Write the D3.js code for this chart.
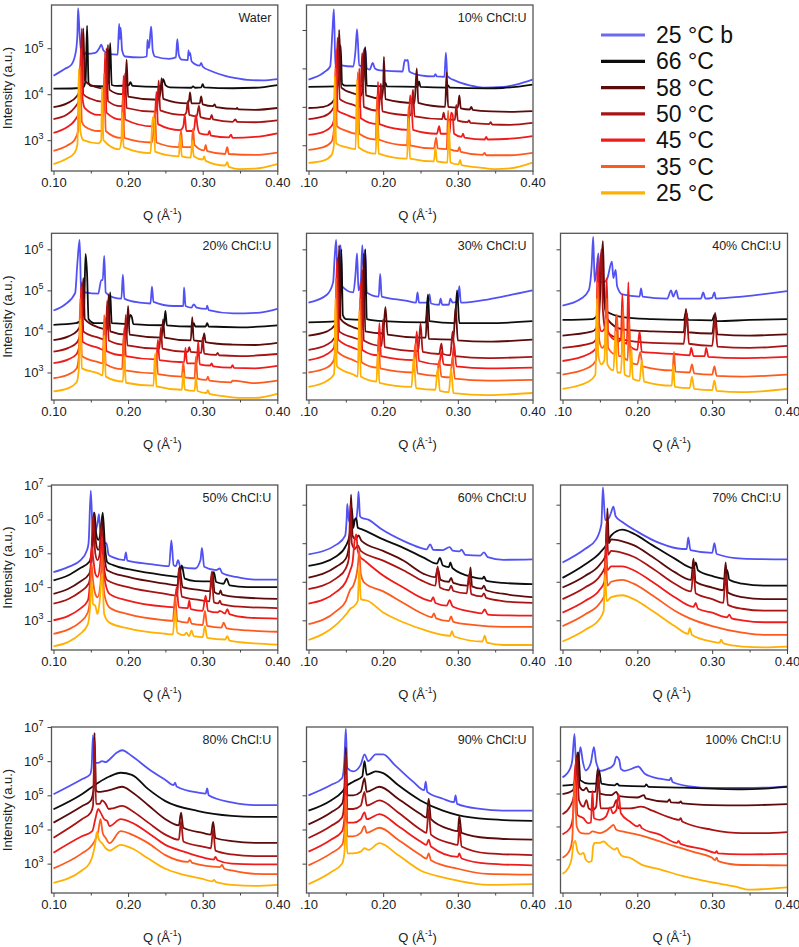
<!DOCTYPE html>
<html><head><meta charset="utf-8">
<script src="https://cdn.jsdelivr.net/npm/d3@7"></script>
<style>body{margin:0;background:#fff}svg{font-family:"Liberation Sans",Arial,sans-serif}</style>
</head><body>
<svg id="chart" width="799" height="947"></svg>
<script>
// ---------------- DATA ----------------
const seriesNames = ["25 °C b","66 °C","58 °C","50 °C","45 °C","35 °C","25 °C"];
const seriesColors = ["#5252f4","#0d0d0d","#5c0b0b","#a81414","#f01c1c","#ff5a1e","#ffb000"];
const legendColors = ["#6a6af2","#0d0d0d","#5c0b0b","#a81414","#f01c1c","#ff5a1e","#ffb000"];
const xTickValues = [0.10,0.20,0.30,0.40];
const xMinorTicks = [0.15,0.25,0.35];
const panelTitles = ["Water","10% ChCl:U","20% ChCl:U","30% ChCl:U","40% ChCl:U","50% ChCl:U","60% ChCl:U","70% ChCl:U","80% ChCl:U","90% ChCl:U","100% ChCl:U"];
// Each curve: [Q (Å^-1), log10(Intensity / a.u.)] pairs
const curvesWater = [
 [[.100,4.40],[.115,4.55],[.124,4.64],[.130,4.93],[.132,5.3],[.133,5.87],[.135,5.3],[.137,4.96],[.145,4.88],[.156,4.90],[.162,5.02],[.164,5.08],[.167,4.95],[.175,4.87],[.186,4.86],[.188,5.53],[.189,5.2],[.190,5.45],[.192,4.95],[.196,4.82],[.216,4.80],[.225,4.82],[.226,5.18],[.228,5.0],[.230,5.35],[.231,5.47],[.233,4.95],[.236,4.82],[.255,4.77],[.264,4.8],[.266,5.2],[.268,4.85],[.272,4.75],[.280,4.74],[.281,4.95],[.282,4.85],[.283,4.9],[.285,4.72],[.290,4.65],[.296,4.62],[.298,4.68],[.300,4.6],[.312,4.50],[.330,4.40],[.345,4.35],[.360,4.31],[.380,4.30],[.400,4.33]],
 [[.100,4.12],[.130,4.13],[.140,4.15],[.143,4.3],[.145,5.49],[.147,4.25],[.150,4.18],[.170,4.17],[.174,4.3],[.176,5.11],[.178,4.2],[.185,4.18],[.201,4.2],[.203,4.26],[.206,4.18],[.240,4.16],[.245,4.2],[.247,4.33],[.250,4.2],[.256,4.15],[.285,4.14],[.287,4.17],[.290,4.14],[.298,4.15],[.300,4.22],[.302,4.15],[.340,4.13],[.370,4.14],[.400,4.20]],
 [[.100,3.72],[.118,3.80],[.131,3.95],[.137,4.15],[.140,5.43],[.142,4.3],[.150,4.2],[.170,4.12],[.172,4.3],[.173,5.07],[.175,4.1],[.190,4.0],[.196,4.0],[.198,4.75],[.200,3.95],[.240,3.88],[.243,4.0],[.245,4.35],[.247,3.9],[.280,3.80],[.282,3.9],[.283,4.04],[.285,3.8],[.296,3.8],[.298,3.95],[.300,3.78],[.314,3.74],[.316,3.78],[.318,3.72],[.345,3.68],[.346,3.70],[.348,3.67],[.370,3.66],[.400,3.70]],
 [[.100,3.46],[.118,3.56],[.128,3.70],[.135,3.9],[.138,5.43],[.140,4.0],[.150,3.9],[.165,3.84],[.170,3.9],[.171,5.0],[.173,3.85],[.190,3.74],[.194,3.78],[.196,4.45],[.198,3.7],[.235,3.62],[.239,3.7],[.241,4.3],[.243,3.65],[.275,3.55],[.278,3.6],[.280,3.85],[.282,3.55],[.292,3.52],[.295,3.75],[.297,3.5],[.310,3.46],[.312,3.55],[.314,3.45],[.340,3.40],[.344,3.45],[.346,3.40],[.370,3.39],[.400,3.43]],
 [[.100,3.16],[.118,3.28],[.128,3.42],[.134,3.6],[.136,4.6],[.137,5.0],[.139,3.9],[.142,3.7],[.160,3.55],[.166,3.55],[.168,3.75],[.169,4.9],[.171,3.6],[.190,3.45],[.192,3.5],[.194,4.4],[.196,3.45],[.233,3.3],[.236,3.5],[.238,4.05],[.240,3.35],[.270,3.22],[.274,3.3],[.276,3.55],[.278,3.2],[.288,3.2],[.291,3.55],[.293,3.3],[.296,3.15],[.307,3.12],[.309,3.2],[.311,3.1],[.335,3.06],[.338,3.12],[.340,3.05],[.370,3.07],[.400,3.15]],
 [[.100,2.77],[.118,2.88],[.128,3.0],[.133,3.2],[.135,4.5],[.136,4.6],[.138,3.4],[.142,3.3],[.160,3.2],[.165,3.2],[.167,3.8],[.168,4.45],[.170,3.2],[.190,3.05],[.192,3.1],[.193,4.0],[.195,3.05],[.232,2.95],[.234,3.2],[.236,3.65],[.238,2.95],[.268,2.85],[.271,3.2],[.273,2.85],[.285,2.85],[.287,3.25],[.289,2.9],[.302,2.78],[.304,2.9],[.306,2.76],[.330,2.7],[.333,2.85],[.335,2.7],[.370,2.68],[.400,2.73]],
 [[.100,2.48],[.118,2.6],[.128,2.72],[.132,2.9],[.134,4.55],[.136,3.2],[.140,3.0],[.160,2.93],[.164,3.0],[.165,4.15],[.167,3.0],[.188,2.8],[.191,3.0],[.192,3.6],[.194,2.85],[.230,2.72],[.233,3.5],[.235,3.45],[.236,2.75],[.268,2.65],[.270,3.1],[.272,2.65],[.284,2.62],[.286,3.0],[.288,2.65],[.300,2.58],[.302,2.65],[.304,2.55],[.330,2.45],[.333,2.52],[.335,2.42],[.350,2.37],[.370,2.38],[.400,2.48]]
];
const curves10 = [
 [[.100,4.71],[.121,4.9],[.129,5.05],[.132,5.95],[.134,6.54],[.136,5.13],[.144,5.08],[.160,5.05],[.163,5.48],[.165,6.02],[.168,5.08],[.172,5.05],[.174,5.44],[.176,5.53],[.178,5.0],[.182,4.97],[.186,5.14],[.189,5.0],[.196,4.95],[.226,4.92],[.229,5.22],[.231,5.2],[.233,5.22],[.235,4.92],[.250,4.82],[.268,4.79],[.270,4.85],[.272,4.79],[.282,4.78],[.284,5.41],[.286,4.8],[.298,4.67],[.316,4.56],[.334,4.5],[.361,4.52],[.378,4.58],[.400,4.71]],
 [[.100,4.52],[.138,4.53],[.141,4.7],[.143,5.6],[.145,4.6],[.150,4.55],[.173,4.55],[.176,5.55],[.178,4.55],[.201,4.53],[.203,4.62],[.205,4.53],[.246,4.52],[.248,4.66],[.250,4.52],[.285,4.5],[.287,4.56],[.289,4.5],[.340,4.48],[.360,4.49],[.400,4.58]],
 [[.100,3.97],[.120,4.0],[.131,4.1],[.137,4.3],[.140,4.8],[.141,6.0],[.144,4.5],[.160,4.35],[.171,4.3],[.173,4.6],[.175,5.5],[.177,4.3],[.198,4.22],[.200,4.5],[.201,5.3],[.203,4.2],[.242,4.1],[.245,5.0],[.247,4.1],[.283,4.0],[.285,4.9],[.287,4.0],[.300,3.98],[.302,4.3],[.304,3.96],[.316,3.93],[.318,4.0],[.320,3.92],[.345,3.88],[.370,3.87],[.400,3.89]],
 [[.100,3.68],[.120,3.75],[.131,3.9],[.136,4.1],[.138,5.0],[.139,5.8],[.142,4.2],[.160,4.05],[.169,4.0],[.171,5.0],[.172,5.4],[.174,4.0],[.194,3.9],[.196,4.35],[.197,4.6],[.199,3.88],[.237,3.78],[.239,4.2],[.240,4.45],[.242,3.75],[.279,3.68],[.281,3.85],[.283,3.68],[.296,3.66],[.298,4.05],[.300,3.64],[.313,3.6],[.315,3.65],[.317,3.58],[.342,3.55],[.344,3.6],[.346,3.54],[.370,3.53],[.400,3.58]],
 [[.100,3.27],[.120,3.35],[.131,3.5],[.135,3.75],[.137,5.5],[.139,3.9],[.150,3.8],[.166,3.7],[.168,5.0],[.170,3.7],[.192,3.55],[.193,4.65],[.195,3.55],[.234,3.4],[.236,4.3],[.238,4.1],[.240,3.4],[.272,3.3],[.275,3.5],[.277,3.3],[.289,3.3],[.291,3.85],[.293,3.8],[.295,3.3],[.305,3.22],[.307,3.3],[.309,3.2],[.336,3.15],[.338,3.22],[.340,3.15],[.370,3.17],[.400,3.24]],
 [[.100,2.88],[.120,2.95],[.131,3.1],[.134,3.4],[.136,5.0],[.138,3.5],[.150,3.38],[.164,3.3],[.166,4.9],[.168,3.3],[.190,3.15],[.192,4.3],[.194,3.15],[.232,3.0],[.234,4.0],[.236,3.0],[.268,2.92],[.271,3.2],[.273,2.92],[.285,2.9],[.287,3.9],[.289,2.9],[.300,2.85],[.302,2.95],[.304,2.83],[.333,2.75],[.336,2.8],[.338,2.74],[.370,2.74],[.400,2.8]],
 [[.100,2.54],[.120,2.6],[.131,2.75],[.134,3.0],[.135,4.8],[.137,3.05],[.150,2.95],[.163,2.9],[.165,4.7],[.167,2.95],[.190,2.78],[.192,3.9],[.194,2.78],[.232,2.65],[.234,3.7],[.236,2.65],[.268,2.58],[.270,2.95],[.272,2.58],[.286,2.55],[.288,3.6],[.290,2.55],[.301,2.5],[.303,2.62],[.305,2.48],[.330,2.42],[.350,2.38],[.370,2.4],[.400,2.55]]
];
const curves20 = [
 [[.100,4.51],[.115,4.65],[.129,4.93],[.132,5.66],[.135,6.23],[.137,5.0],[.142,4.95],[.160,4.92],[.164,5.25],[.166,5.25],[.168,5.84],[.170,4.95],[.180,4.83],[.191,4.8],[.193,5.38],[.195,4.8],[.216,4.7],[.230,4.68],[.232,5.09],[.234,4.72],[.261,4.62],[.274,4.62],[.275,5.07],[.277,4.62],[.285,4.58],[.288,4.66],[.292,4.58],[.305,4.55],[.306,4.63],[.308,4.52],[.341,4.44],[.377,4.46],[.400,4.55]],
 [[.100,4.16],[.130,4.2],[.138,4.3],[.141,4.6],[.143,5.89],[.145,5.4],[.147,4.3],[.155,4.2],[.174,4.2],[.176,4.95],[.178,4.2],[.200,4.18],[.203,4.4],[.205,4.35],[.207,4.18],[.248,4.15],[.250,4.5],[.252,4.15],[.286,4.12],[.288,4.2],[.290,4.12],[.304,4.12],[.306,4.2],[.308,4.12],[.350,4.1],[.400,4.15]],
 [[.100,3.79],[.120,3.88],[.131,4.0],[.137,4.2],[.140,5.3],[.142,4.3],[.160,4.1],[.172,4.05],[.174,4.9],[.176,4.0],[.198,3.92],[.200,4.62],[.202,3.92],[.245,3.85],[.247,4.3],[.249,3.85],[.284,3.78],[.286,4.35],[.288,3.78],[.300,3.76],[.302,3.95],[.304,3.74],[.320,3.7],[.340,3.68],[.370,3.67],[.400,3.72]],
 [[.100,3.51],[.120,3.6],[.131,3.72],[.136,3.95],[.138,5.2],[.140,4.0],[.160,3.85],[.170,3.8],[.172,4.75],[.174,3.78],[.195,3.68],[.197,4.4],[.199,3.66],[.242,3.58],[.244,4.1],[.246,3.58],[.280,3.5],[.282,3.62],[.284,3.5],[.298,3.48],[.300,3.85],[.302,3.46],[.318,3.43],[.320,3.48],[.322,3.42],[.350,3.4],[.400,3.45]],
 [[.100,3.23],[.120,3.32],[.131,3.45],[.135,3.7],[.137,5.1],[.139,3.75],[.160,3.6],[.167,3.55],[.169,4.35],[.171,3.52],[.193,3.42],[.195,4.1],[.197,3.4],[.238,3.32],[.240,3.8],[.242,3.3],[.275,3.25],[.277,3.6],[.279,3.22],[.292,3.22],[.294,3.75],[.296,3.2],[.310,3.17],[.312,3.22],[.314,3.15],[.338,3.12],[.340,3.18],[.342,3.11],[.370,3.1],[.400,3.16]],
 [[.100,2.86],[.120,2.95],[.131,3.1],[.134,3.4],[.136,4.8],[.138,3.4],[.160,3.25],[.166,3.22],[.168,4.4],[.170,3.2],[.192,3.08],[.194,3.9],[.196,3.05],[.236,2.98],[.238,3.5],[.240,2.96],[.272,2.9],[.274,3.25],[.276,2.88],[.289,2.86],[.291,3.4],[.293,2.85],[.305,2.82],[.307,2.9],[.309,2.8],[.338,2.76],[.340,2.8],[.370,2.74],[.400,2.8]],
 [[.100,2.54],[.120,2.62],[.131,2.76],[.134,3.1],[.136,4.3],[.138,3.1],[.160,2.98],[.166,2.93],[.168,3.9],[.170,2.9],[.193,2.78],[.195,3.4],[.197,2.75],[.234,2.68],[.236,3.45],[.238,2.66],[.272,2.58],[.274,3.0],[.276,2.58],[.289,2.55],[.291,2.9],[.293,2.55],[.305,2.5],[.307,2.57],[.309,2.48],[.330,2.42],[.350,2.38],[.370,2.38],[.400,2.48]]
];
const curves30 = [
 [[.100,4.7],[.125,4.9],[.133,5.2],[.135,5.8],[.137,6.23],[.139,5.3],[.141,5.5],[.143,6.1],[.145,5.1],[.160,4.95],[.163,5.4],[.165,5.9],[.167,5.0],[.170,5.2],[.172,6.1],[.174,5.5],[.176,6.0],[.178,4.95],[.194,4.85],[.196,5.4],[.198,4.85],[.230,4.75],[.244,4.7],[.246,4.95],[.248,4.7],[.260,4.7],[.262,4.9],[.264,4.68],[.275,4.65],[.277,4.8],[.279,4.65],[.288,4.65],[.290,4.8],[.293,4.7],[.300,4.75],[.302,5.1],[.304,4.7],[.330,4.75],[.360,4.85],[.400,5.0]],
 [[.100,4.22],[.138,4.25],[.142,4.4],[.144,6.0],[.146,4.4],[.150,4.3],[.174,4.28],[.176,6.0],[.178,4.3],[.200,4.25],[.257,4.22],[.260,4.9],[.262,4.25],[.296,4.2],[.299,5.0],[.302,4.2],[.340,4.2],[.400,4.25]],
 [[.100,3.9],[.125,4.0],[.135,4.15],[.139,4.4],[.141,6.1],[.143,4.3],[.160,4.1],[.172,4.05],[.174,5.9],[.176,4.0],[.200,3.95],[.203,4.6],[.206,3.92],[.250,3.85],[.257,3.85],[.259,4.55],[.261,3.82],[.294,3.8],[.297,4.6],[.300,3.78],[.340,3.75],[.400,3.8]],
 [[.100,3.55],[.125,3.68],[.135,3.85],[.137,4.2],[.139,5.8],[.141,4.0],[.160,3.85],[.170,3.8],[.172,5.5],[.174,3.78],[.198,3.65],[.200,4.3],[.202,3.62],[.247,3.52],[.250,4.2],[.253,3.5],[.275,3.45],[.278,3.7],[.280,3.45],[.290,3.42],[.293,4.0],[.296,3.4],[.340,3.35],[.400,3.38]],
 [[.100,3.3],[.125,3.45],[.134,3.6],[.136,4.0],[.138,5.7],[.140,3.8],[.160,3.6],[.168,3.55],[.170,5.2],[.172,3.55],[.193,3.42],[.195,4.2],[.197,3.4],[.242,3.3],[.245,4.0],[.248,3.28],[.275,3.2],[.278,3.5],[.281,3.2],[.292,3.18],[.295,3.7],[.298,3.15],[.340,3.1],[.400,3.12]],
 [[.100,3.0],[.125,3.12],[.134,3.3],[.136,3.7],[.137,5.3],[.139,3.5],[.160,3.3],[.167,3.25],[.169,4.8],[.171,3.25],[.192,3.12],[.194,3.9],[.196,3.1],[.240,3.0],[.243,3.7],[.246,2.98],[.272,2.92],[.275,3.3],[.278,2.9],[.290,2.88],[.293,3.4],[.296,2.85],[.340,2.8],[.400,2.82]],
 [[.100,2.65],[.125,2.8],[.134,2.95],[.135,3.3],[.136,4.8],[.138,3.15],[.160,2.95],[.166,2.9],[.168,4.5],[.170,2.9],[.191,2.78],[.193,3.5],[.195,2.75],[.238,2.65],[.241,3.4],[.244,2.62],[.270,2.58],[.273,3.1],[.276,2.55],[.288,2.52],[.291,3.1],[.294,2.5],[.340,2.45],[.400,2.5]]
];
const curves40 = [
 [[.100,4.63],[.125,4.8],[.135,5.0],[.139,5.6],[.141,6.3],[.143,5.2],[.146,5.6],[.148,5.9],[.150,5.2],[.155,5.2],[.160,5.3],[.166,5.7],[.168,5.3],[.171,5.5],[.173,5.1],[.180,4.9],[.203,4.85],[.205,5.05],[.207,4.85],[.240,4.8],[.245,5.0],[.248,4.85],[.252,5.0],[.255,4.8],[.285,4.8],[.288,4.95],[.291,4.8],[.300,4.82],[.303,4.95],[.305,4.8],[.340,4.85],[.400,4.98]],
 [[.100,4.28],[.140,4.3],[.148,4.45],[.151,5.5],[.153,6.0],[.155,5.0],[.158,4.5],[.180,4.35],[.220,4.3],[.262,4.28],[.265,4.45],[.268,4.28],[.300,4.27],[.303,4.4],[.306,4.25],[.350,4.28],[.400,4.3]],
 [[.100,3.9],[.140,4.0],[.148,4.2],[.152,5.6],[.154,6.2],[.156,4.8],[.160,4.3],[.180,4.05],[.220,4.0],[.262,3.98],[.265,4.55],[.268,3.98],[.300,3.95],[.304,4.45],[.307,3.93],[.350,3.9],[.400,3.93]],
 [[.100,3.6],[.140,3.72],[.147,3.9],[.150,5.4],[.152,6.0],[.154,4.5],[.158,4.0],[.180,3.8],[.220,3.72],[.262,3.7],[.266,4.45],[.269,3.7],[.300,3.65],[.304,4.3],[.307,3.63],[.350,3.6],[.400,3.65]],
 [[.100,3.28],[.135,3.45],[.145,3.6],[.147,5.8],[.149,4.2],[.152,4.0],[.157,4.1],[.159,5.3],[.161,4.0],[.170,3.8],[.172,4.4],[.174,3.75],[.178,3.8],[.180,4.9],[.182,3.75],[.186,3.7],[.188,5.2],[.190,3.65],[.200,3.55],[.203,4.0],[.206,3.5],[.250,3.45],[.270,3.42],[.272,3.6],[.275,3.4],[.290,3.4],[.292,3.6],[.295,3.38],[.340,3.35],[.400,3.38]],
 [[.100,2.95],[.135,3.12],[.145,3.3],[.147,5.2],[.149,3.8],[.153,3.6],[.157,3.7],[.159,4.8],[.161,3.6],[.170,3.45],[.173,4.4],[.175,3.4],[.179,3.4],[.181,4.6],[.183,3.35],[.187,3.3],[.189,4.3],[.191,3.25],[.200,3.2],[.204,3.5],[.207,3.15],[.247,3.05],[.249,3.5],[.251,3.02],[.270,3.0],[.273,3.2],[.276,2.98],[.300,2.95],[.303,3.15],[.306,2.92],[.340,2.9],[.400,2.95]],
 [[.100,2.6],[.135,2.78],[.144,2.95],[.146,4.8],[.148,3.4],[.152,3.2],[.156,3.3],[.158,4.3],[.160,3.2],[.168,3.05],[.171,4.0],[.173,3.0],[.178,3.0],[.181,4.0],[.183,2.95],[.190,2.9],[.192,3.6],[.194,2.85],[.203,2.8],[.206,3.3],[.209,2.78],[.246,2.68],[.248,3.2],[.250,2.65],[.270,2.62],[.273,2.9],[.276,2.6],[.300,2.57],[.303,2.8],[.306,2.55],[.340,2.52],[.400,2.6]]
];
const curves50 = [
 [[.100,4.44],[.120,4.6],[.136,4.79],[.145,5.1],[.147,5.3],[.150,6.85],[.153,5.4],[.156,5.6],[.159,5.9],[.161,6.16],[.163,5.5],[.166,5.5],[.169,5.3],[.171,5.3],[.174,4.95],[.180,4.88],[.195,4.8],[.197,5.03],[.199,4.78],[.230,4.68],[.255,4.62],[.258,5.38],[.261,4.65],[.264,4.62],[.267,4.8],[.270,4.6],[.290,4.55],[.297,4.8],[.299,5.16],[.302,4.6],[.318,4.5],[.323,4.55],[.326,4.42],[.345,4.3],[.370,4.22],[.400,4.22]],
 [[.100,4.2],[.120,4.35],[.135,4.55],[.148,4.75],[.152,5.2],[.155,6.2],[.157,5.6],[.160,5.4],[.163,5.6],[.166,6.2],[.169,5.2],[.172,4.74],[.180,4.65],[.207,4.5],[.250,4.35],[.268,4.3],[.272,4.64],[.276,4.25],[.290,4.18],[.310,4.17],[.315,4.44],[.318,4.15],[.328,4.1],[.332,4.25],[.336,4.05],[.360,4.0],[.400,4.0]],
 [[.100,3.8],[.120,3.95],[.135,4.15],[.148,4.4],[.152,5.0],[.154,6.2],[.157,5.3],[.160,5.1],[.163,5.4],[.165,6.0],[.168,5.0],[.172,4.5],[.200,4.3],[.250,4.1],[.266,4.05],[.269,4.6],[.273,4.0],[.295,3.92],[.310,3.88],[.313,4.45],[.316,3.85],[.322,3.8],[.324,3.9],[.326,3.78],[.350,3.7],[.400,3.65]],
 [[.100,3.51],[.120,3.65],[.135,3.85],[.147,4.1],[.150,4.5],[.153,6.1],[.156,5.0],[.159,4.8],[.162,5.0],[.164,5.8],[.167,4.7],[.172,4.2],[.200,4.0],[.250,3.8],[.266,3.75],[.268,4.55],[.272,3.72],[.295,3.62],[.309,3.58],[.312,4.45],[.315,3.55],[.321,3.52],[.323,3.6],[.325,3.5],[.350,3.42],[.400,3.38]],
 [[.100,3.02],[.120,3.15],[.135,3.35],[.146,3.6],[.149,4.2],[.151,5.2],[.153,4.9],[.156,4.4],[.159,4.3],[.163,4.8],[.165,5.5],[.168,4.3],[.175,3.8],[.200,3.6],[.250,3.42],[.262,3.4],[.265,4.0],[.268,3.4],[.280,3.38],[.282,3.6],[.284,3.35],[.300,3.3],[.304,3.75],[.307,3.3],[.320,3.25],[.323,3.3],[.330,3.22],[.333,3.35],[.336,3.2],[.360,3.1],[.400,3.07]],
 [[.100,2.62],[.120,2.75],[.135,2.95],[.146,3.25],[.149,3.7],[.151,4.7],[.153,4.2],[.156,3.8],[.159,3.7],[.163,4.1],[.165,4.95],[.168,3.8],[.175,3.4],[.200,3.2],[.250,3.02],[.260,3.0],[.263,3.75],[.266,3.0],[.280,2.95],[.282,3.1],[.285,2.92],[.300,2.88],[.303,3.3],[.306,2.85],[.325,2.8],[.328,2.95],[.332,2.78],[.360,2.72],[.400,2.68]],
 [[.100,2.25],[.120,2.38],[.135,2.6],[.146,2.9],[.149,3.4],[.151,4.2],[.153,3.5],[.156,3.45],[.159,3.2],[.162,3.6],[.165,4.4],[.168,3.2],[.175,2.95],[.200,2.78],[.250,2.62],[.260,2.6],[.263,3.3],[.266,2.65],[.275,2.58],[.278,2.65],[.282,2.55],[.285,2.72],[.288,2.55],[.300,2.52],[.303,2.85],[.306,2.5],[.330,2.45],[.333,2.55],[.336,2.42],[.360,2.35],[.400,2.3]]
];
const curves60 = [
 [[.100,4.71],[.138,4.97],[.149,5.19],[.151,5.6],[.152,6.02],[.154,5.57],[.160,5.6],[.164,5.65],[.166,6.0],[.167,6.34],[.169,5.7],[.171,5.66],[.180,5.61],[.198,5.36],[.227,5.06],[.250,4.88],[.258,4.84],[.263,4.97],[.267,4.83],[.280,4.82],[.289,4.9],[.293,4.81],[.302,4.79],[.305,4.83],[.310,4.7],[.330,4.68],[.335,4.76],[.340,4.64],[.361,4.57],[.400,4.58]],
 [[.100,4.41],[.138,4.67],[.150,4.93],[.155,5.2],[.158,5.91],[.160,5.4],[.162,5.6],[.164,5.65],[.166,5.4],[.170,5.37],[.200,5.1],[.227,4.88],[.255,4.62],[.272,4.47],[.276,4.62],[.280,4.42],[.288,4.38],[.290,4.5],[.293,4.35],[.320,4.12],[.333,4.08],[.335,4.13],[.338,4.03],[.360,3.97],[.400,3.94]],
 [[.100,4.11],[.138,4.4],[.150,4.6],[.154,4.9],[.156,5.6],[.157,6.26],[.159,5.2],[.163,5.1],[.167,5.2],[.171,5.06],[.200,4.8],[.227,4.55],[.255,4.2],[.270,4.12],[.273,4.35],[.277,4.05],[.288,4.0],[.291,4.1],[.294,3.97],[.312,3.9],[.315,4.0],[.317,4.37],[.319,3.88],[.332,3.82],[.335,3.9],[.338,3.78],[.360,3.69],[.400,3.6]],
 [[.100,3.81],[.138,4.1],[.150,4.35],[.154,4.6],[.156,6.0],[.158,5.0],[.162,4.85],[.166,4.95],[.170,4.8],[.200,4.55],[.227,4.3],[.255,4.0],[.270,3.9],[.273,4.4],[.276,3.85],[.288,3.78],[.291,3.9],[.294,3.76],[.312,3.7],[.315,4.2],[.318,3.68],[.332,3.62],[.335,3.7],[.338,3.58],[.360,3.5],[.400,3.45]],
 [[.100,3.43],[.138,3.75],[.150,4.0],[.156,4.3],[.159,4.5],[.162,5.1],[.164,5.23],[.166,4.8],[.169,4.65],[.175,4.55],[.200,4.16],[.227,3.85],[.255,3.55],[.264,3.5],[.267,3.6],[.270,3.45],[.285,3.38],[.289,3.52],[.293,3.36],[.320,3.22],[.332,3.18],[.336,3.28],[.340,3.15],[.361,3.13],[.400,3.12]],
 [[.100,2.9],[.138,3.25],[.150,3.5],[.156,3.8],[.160,3.9],[.166,4.4],[.168,4.8],[.170,4.2],[.175,3.97],[.200,3.75],[.227,3.45],[.255,3.15],[.265,3.08],[.268,3.18],[.271,3.05],[.288,2.98],[.291,3.1],[.294,2.96],[.320,2.88],[.360,2.83],[.400,2.83]],
 [[.100,2.49],[.138,2.9],[.151,3.17],[.156,3.3],[.160,3.35],[.166,3.5],[.168,4.4],[.170,3.55],[.180,3.5],[.200,3.2],[.227,2.95],[.255,2.75],[.290,2.6],[.292,2.72],[.295,2.58],[.333,2.45],[.336,2.6],[.339,2.42],[.361,2.36],[.400,2.36]]
];
const curves70 = [
 [[.100,4.5],[.130,4.85],[.145,5.1],[.152,5.5],[.154,6.45],[.157,5.6],[.162,5.65],[.165,5.8],[.168,5.95],[.171,5.7],[.180,5.55],[.200,5.3],[.230,5.0],[.260,4.85],[.266,4.85],[.268,5.15],[.271,4.82],[.300,4.75],[.303,5.0],[.306,4.72],[.340,4.6],[.400,4.58]],
 [[.100,4.1],[.130,4.45],[.150,4.75],[.160,5.0],[.165,5.2],[.180,5.35],[.195,5.25],[.220,4.95],[.250,4.6],[.275,4.35],[.278,4.5],[.281,4.3],[.300,4.15],[.317,4.08],[.320,4.3],[.323,4.05],[.340,3.95],[.370,3.9],[.400,3.9]],
 [[.100,3.85],[.130,4.15],[.150,4.45],[.158,4.7],[.160,5.9],[.162,5.0],[.165,5.1],[.180,5.05],[.195,4.95],[.220,4.65],[.250,4.25],[.272,4.05],[.275,4.6],[.278,4.0],[.300,3.85],[.315,3.78],[.318,4.5],[.321,3.72],[.340,3.6],[.370,3.55],[.400,3.55]],
 [[.100,3.55],[.130,3.85],[.150,4.15],[.157,4.4],[.159,5.6],[.161,4.7],[.165,4.8],[.180,4.75],[.195,4.65],[.220,4.35],[.250,3.95],[.272,3.75],[.275,4.3],[.278,3.7],[.300,3.55],[.315,3.45],[.318,4.2],[.321,3.4],[.340,3.3],[.370,3.25],[.400,3.25]],
 [[.100,3.2],[.130,3.5],[.150,3.8],[.156,4.0],[.158,5.0],[.160,4.3],[.165,4.4],[.180,4.4],[.195,4.3],[.220,4.0],[.250,3.6],[.275,3.35],[.278,3.45],[.281,3.3],[.300,3.2],[.320,3.08],[.323,3.15],[.326,3.05],[.340,3.0],[.370,2.95],[.400,2.95]],
 [[.100,2.85],[.130,3.15],[.150,3.45],[.156,3.65],[.158,4.6],[.160,3.9],[.165,4.0],[.180,4.05],[.195,3.95],[.220,3.65],[.250,3.25],[.270,3.05],[.300,2.85],[.340,2.68],[.370,2.62],[.400,2.62]],
 [[.100,2.45],[.130,2.75],[.150,3.05],[.155,3.25],[.157,4.2],[.159,3.5],[.165,3.6],[.180,3.65],[.195,3.55],[.220,3.25],[.250,2.85],[.268,2.65],[.270,2.8],[.273,2.62],[.300,2.45],[.310,2.42],[.312,2.5],[.315,2.4],[.340,2.32],[.370,2.3],[.400,2.32]]
];
const curves80 = [
 [[.100,5.03],[.138,5.47],[.149,5.61],[.151,5.8],[.153,6.76],[.155,5.95],[.160,5.95],[.165,6.0],[.170,5.97],[.175,6.05],[.185,6.25],[.192,6.32],[.205,6.15],[.227,5.78],[.250,5.45],[.261,5.3],[.263,5.37],[.265,5.26],[.294,5.08],[.304,5.05],[.306,5.2],[.308,5.0],[.339,4.79],[.370,4.71],[.400,4.71]],
 [[.100,4.59],[.138,5.03],[.160,5.37],[.175,5.55],[.190,5.66],[.205,5.6],[.227,5.18],[.250,4.83],[.294,4.54],[.339,4.4],[.370,4.37],[.400,4.37]],
 [[.100,4.2],[.138,4.68],[.150,4.85],[.154,5.2],[.155,6.83],[.157,5.15],[.160,5.1],[.175,5.15],[.192,5.25],[.205,5.1],[.227,4.71],[.250,4.3],[.268,4.12],[.271,4.49],[.274,4.05],[.300,3.9],[.311,3.85],[.314,4.22],[.317,3.75],[.339,3.66],[.370,3.61],[.400,3.61]],
 [[.100,3.76],[.138,4.3],[.150,4.5],[.153,4.7],[.155,6.6],[.157,4.75],[.162,4.75],[.165,4.85],[.170,4.75],[.174,4.6],[.180,4.62],[.192,4.69],[.205,4.55],[.227,4.2],[.250,3.85],[.268,3.7],[.271,4.25],[.274,3.65],[.300,3.5],[.311,3.45],[.314,4.0],[.317,3.38],[.339,3.27],[.370,3.22],[.400,3.22]],
 [[.100,3.32],[.138,3.8],[.152,3.95],[.156,4.3],[.160,4.6],[.163,4.5],[.168,4.3],[.172,4.25],[.175,4.1],[.190,4.3],[.205,4.2],[.227,3.9],[.250,3.55],[.275,3.35],[.300,3.18],[.315,3.12],[.317,3.2],[.320,3.1],[.339,3.0],[.370,2.98],[.400,2.98]],
 [[.100,2.86],[.138,3.3],[.152,3.55],[.157,3.75],[.160,3.95],[.163,4.3],[.166,3.9],[.170,3.75],[.175,3.6],[.190,3.95],[.205,3.85],[.227,3.6],[.250,3.25],[.280,3.05],[.283,3.1],[.286,3.02],[.323,2.9],[.326,2.96],[.329,2.85],[.339,2.8],[.370,2.7],[.400,2.69]],
 [[.100,2.44],[.138,2.8],[.148,3.0],[.152,3.2],[.156,3.6],[.158,3.92],[.161,3.7],[.165,3.6],[.170,3.45],[.175,3.38],[.190,3.55],[.205,3.45],[.227,3.15],[.250,2.85],[.270,2.7],[.300,2.55],[.313,2.48],[.315,2.52],[.318,2.46],[.339,2.38],[.370,2.35],[.400,2.38]]
];
const curves90 = [
 [[.100,5.0],[.130,5.3],[.145,5.5],[.148,6.0],[.150,6.95],[.152,5.8],[.160,5.7],[.170,5.9],[.175,6.2],[.180,6.0],[.190,6.2],[.200,6.2],[.215,5.9],[.240,5.4],[.255,5.15],[.257,5.4],[.259,5.1],[.280,4.9],[.295,4.8],[.297,5.0],[.299,4.75],[.330,4.6],[.360,4.55],[.400,4.55]],
 [[.100,4.55],[.130,4.85],[.145,5.1],[.150,5.25],[.160,5.4],[.172,5.55],[.175,6.0],[.178,5.6],[.190,5.7],[.200,5.65],[.220,5.3],[.250,4.85],[.280,4.55],[.300,4.42],[.340,4.3],[.400,4.25]],
 [[.100,4.15],[.130,4.5],[.145,4.75],[.148,5.2],[.150,6.4],[.152,5.0],[.160,5.0],[.170,5.1],[.175,5.5],[.178,5.1],[.195,5.25],[.220,4.9],[.250,4.45],[.258,4.35],[.261,4.9],[.264,4.3],[.290,4.0],[.300,3.95],[.302,4.4],[.305,3.9],[.340,3.75],[.400,3.7]],
 [[.100,3.75],[.130,4.1],[.145,4.35],[.148,4.8],[.150,6.2],[.152,4.6],[.160,4.6],[.170,4.7],[.175,5.1],[.178,4.7],[.195,4.85],[.220,4.5],[.250,4.0],[.258,3.9],[.261,4.6],[.264,3.85],[.290,3.6],[.300,3.55],[.302,4.1],[.305,3.5],[.340,3.3],[.400,3.25]],
 [[.100,3.35],[.130,3.7],[.145,3.95],[.148,4.3],[.150,5.6],[.152,4.2],[.160,4.2],[.170,4.3],[.175,4.5],[.178,4.3],[.195,4.45],[.220,4.1],[.250,3.65],[.258,3.55],[.261,3.7],[.264,3.5],[.300,3.2],[.302,3.3],[.305,3.15],[.340,3.0],[.400,2.95]],
 [[.100,2.95],[.130,3.3],[.145,3.55],[.148,3.9],[.150,5.0],[.152,3.8],[.160,3.8],[.170,3.9],[.175,4.1],[.178,3.9],[.195,4.05],[.220,3.7],[.250,3.25],[.258,3.15],[.261,3.3],[.264,3.1],[.300,2.85],[.340,2.7],[.400,2.68]],
 [[.100,2.4],[.130,2.75],[.145,3.0],[.148,3.3],[.150,4.2],[.152,3.3],[.160,3.3],[.170,3.35],[.175,3.45],[.180,3.4],[.195,3.6],[.220,3.25],[.250,2.8],[.280,2.6],[.300,2.5],[.340,2.38],[.400,2.4]]
];
const curves100 = [
 [[.100,5.49],[.110,5.75],[.113,6.0],[.116,6.81],[.118,5.99],[.121,5.95],[.124,6.41],[.127,5.99],[.131,5.7],[.134,5.75],[.138,5.95],[.142,6.41],[.145,5.95],[.151,5.69],[.160,5.75],[.165,5.8],[.169,5.9],[.172,6.12],[.176,6.0],[.178,5.75],[.183,5.69],[.198,5.8],[.201,5.82],[.210,5.6],[.230,5.45],[.243,5.41],[.245,5.48],[.247,5.35],[.270,5.22],[.300,5.17],[.340,5.17],[.370,5.18],[.400,5.22]],
 [[.100,5.24],[.115,5.27],[.118,5.6],[.121,6.25],[.124,5.4],[.135,5.3],[.145,5.3],[.147,5.5],[.149,5.69],[.152,5.3],[.170,5.25],[.173,5.3],[.176,5.24],[.210,5.22],[.212,5.28],[.215,5.2],[.260,5.18],[.300,5.15],[.340,5.13],[.370,5.15],[.400,5.2]],
 [[.100,4.98],[.114,5.1],[.117,5.5],[.120,6.25],[.123,5.2],[.128,5.1],[.132,5.18],[.135,5.05],[.144,5.05],[.147,5.75],[.150,5.0],[.165,4.95],[.172,5.05],[.175,4.92],[.200,4.88],[.209,4.95],[.211,4.85],[.240,4.75],[.243,4.82],[.245,4.73],[.256,4.72],[.258,4.76],[.260,4.7],[.300,4.65],[.340,4.64],[.400,4.68]],
 [[.100,4.37],[.110,4.6],[.115,4.9],[.119,6.1],[.122,4.8],[.128,4.6],[.132,4.8],[.135,4.55],[.140,4.5],[.145,4.6],[.148,5.5],[.151,4.55],[.160,4.55],[.168,4.6],[.172,4.8],[.175,4.55],[.190,4.55],[.205,4.6],[.220,4.48],[.240,4.3],[.256,4.2],[.258,4.25],[.260,4.15],[.300,3.9],[.340,3.8],[.370,3.8],[.400,3.83]],
 [[.100,3.76],[.110,3.95],[.114,4.3],[.117,5.9],[.120,4.35],[.128,4.25],[.134,4.1],[.138,4.12],[.140,5.08],[.142,4.25],[.150,4.2],[.158,4.3],[.164,4.58],[.167,4.4],[.172,4.5],[.175,4.98],[.178,4.4],[.190,4.15],[.200,4.0],[.203,4.05],[.206,3.95],[.230,3.75],[.253,3.5],[.255,3.56],[.258,3.47],[.290,3.3],[.304,3.2],[.306,3.25],[.308,3.18],[.340,3.15],[.400,3.17]],
 [[.100,3.05],[.110,3.3],[.113,3.6],[.116,5.4],[.119,4.0],[.125,3.8],[.135,3.78],[.140,3.85],[.150,3.8],[.160,3.9],[.165,4.0],[.168,4.05],[.172,3.9],[.180,3.85],[.200,3.75],[.230,3.55],[.250,3.4],[.280,3.2],[.300,3.05],[.304,2.98],[.306,3.05],[.308,2.95],[.340,2.83],[.400,2.82]],
 [[.100,2.56],[.108,2.75],[.112,3.0],[.115,3.5],[.117,3.56],[.120,3.25],[.124,3.15],[.128,3.2],[.131,3.0],[.135,2.92],[.139,2.95],[.141,3.4],[.143,3.5],[.150,3.5],[.155,3.55],[.160,3.45],[.170,3.3],[.173,3.35],[.176,3.2],[.180,3.1],[.190,3.05],[.205,2.85],[.230,2.7],[.260,2.5],[.300,2.3],[.330,2.18],[.350,2.08],[.370,2.1],[.400,2.15]]
];
// y-axis ranges (log10 of intensity) and decade ticks for each panel
const yLogRanges = [[2.33,5.94],[2.33,6.65],[2.33,6.39],[2.33,6.39],[2.33,6.39],[2.14,7.02],[2.23,6.51],[2.23,6.51],[2.14,7.0],[2.14,7.0],[1.98,7.02]];
const yTickExps = [[3,4,5],[3,4,5,6],[3,4,5,6],[3,4,5,6],[3,4,5,6],[3,4,5,6,7],[3,4,5,6],[3,4,5,6],[3,4,5,6,7],[3,4,5,6],[3,4,5,6]];
const allCurves = [curvesWater,curves10,curves20,curves30,curves40,curves50,curves60,curves70,curves80,curves90,curves100];

// ---------------- LAYOUT ----------------
const panelCells = [[0,0],[0,1],[1,0],[1,1],[1,2],[2,0],[2,1],[2,2],[3,0],[3,1],[3,2]]; // [row,col]
const colX = [[53.5,277.3],[308.5,532.5],[562.5,787]];
const rowY = [[5,171],[233.3,400],[485,650],[727,893]];

const svg = d3.select("#chart");
const defs = svg.append("defs");

panelCells.forEach(([r,c],i)=>{
  const [x0,x1] = colX[c], [y0,y1] = rowY[r];
  const x = d3.scaleLinear().domain([0.10,0.40]).range([x0,x1]);
  const y = d3.scaleLog().domain([Math.pow(10,yLogRanges[i][0]),Math.pow(10,yLogRanges[i][1])]).range([y1,y0]);
  const g = svg.append("g");
  const fx0 = x0-2, fx1 = x1+0.5;
  defs.append("clipPath").attr("id","clip"+i).append("rect")
    .attr("x",fx0).attr("y",y0).attr("width",fx1-fx0).attr("height",y1-y0);
  const line = d3.line().curve(d3.curveMonotoneX).x(d=>x(d[0])).y(d=>y(Math.pow(10,d[1])));
  const cg = g.append("g").attr("clip-path","url(#clip"+i+")");
  allCurves[i].forEach((curve,k)=>{
    cg.append("path").attr("d",line(curve)).attr("fill","none")
      .attr("stroke",seriesColors[k]).attr("stroke-width",1.8).attr("stroke-linejoin","round");
  });
  g.append("rect").attr("x",fx0).attr("y",y0).attr("width",fx1-fx0).attr("height",y1-y0)
    .attr("fill","none").attr("stroke","#555").attr("stroke-width",1.3);
  const xa = d3.axisBottom(x).tickValues(xTickValues).tickSize(4).tickPadding(3)
    .tickFormat((d,j)=> (j===0 && c>0) ? ".10" : d3.format(".2f")(d));
  const xg = g.append("g").attr("transform",`translate(0,${y1})`).call(xa);
  xg.select(".domain").remove();
  xg.selectAll("line").attr("stroke","#444");
  xg.selectAll("text").attr("font-size",13).attr("fill","#222").attr("font-family","Liberation Sans, Arial, sans-serif");
  const xm = g.append("g").attr("transform",`translate(0,${y1})`)
    .call(d3.axisBottom(x).tickValues(xMinorTicks).tickSize(2.5).tickFormat(""));
  xm.select(".domain").remove(); xm.selectAll("line").attr("stroke","#444");
  const ya = d3.axisLeft(y).tickValues(yTickExps[i].map(e=>Math.pow(10,e))).tickSize(4).tickFormat("");
  const yg = g.append("g").attr("transform",`translate(${fx0},0)`).call(ya);
  yg.select(".domain").remove(); yg.selectAll("line").attr("stroke","#444");
  if(c===0){
    yTickExps[i].forEach(e=>{
      const t = g.append("text").attr("x",fx0-8).attr("y",y(Math.pow(10,e))+4.5)
        .attr("text-anchor","end").attr("font-size",13).attr("fill","#222");
      t.append("tspan").text("10");
      t.append("tspan").attr("dy",-6).attr("font-size",9).text(String(e));
    });
    g.append("text").attr("transform",`translate(12,${(y0+y1)/2}) rotate(-90)`)
      .attr("text-anchor","middle").attr("font-size",13).attr("fill","#222").text("Intensity (a.u.)");
  }
  const q = g.append("text").attr("x",(x0+x1)/2-3).attr("y",y1+48.5).attr("text-anchor","middle")
    .attr("font-size",13).attr("fill","#222");
  q.append("tspan").text("Q (Å");
  q.append("tspan").attr("dy",-6).attr("font-size",8.5).text("-1");
  q.append("tspan").attr("dy",6).text(")");
  g.append("text").attr("x",x1-6).attr("y",y0+17).attr("text-anchor","end")
    .attr("font-size",12.5).attr("fill","#222").text(panelTitles[i]);
});

const lg = svg.append("g");
seriesNames.forEach((n,k)=>{
  const yy = 35 + k*26.3;
  lg.append("line").attr("x1",601).attr("x2",645).attr("y1",yy).attr("y2",yy)
    .attr("stroke",legendColors[k]).attr("stroke-width",3.2);
  lg.append("text").attr("x",656).attr("y",yy+8).attr("font-size",23).attr("fill","#111").text(n);
});
</script>
</body></html>
